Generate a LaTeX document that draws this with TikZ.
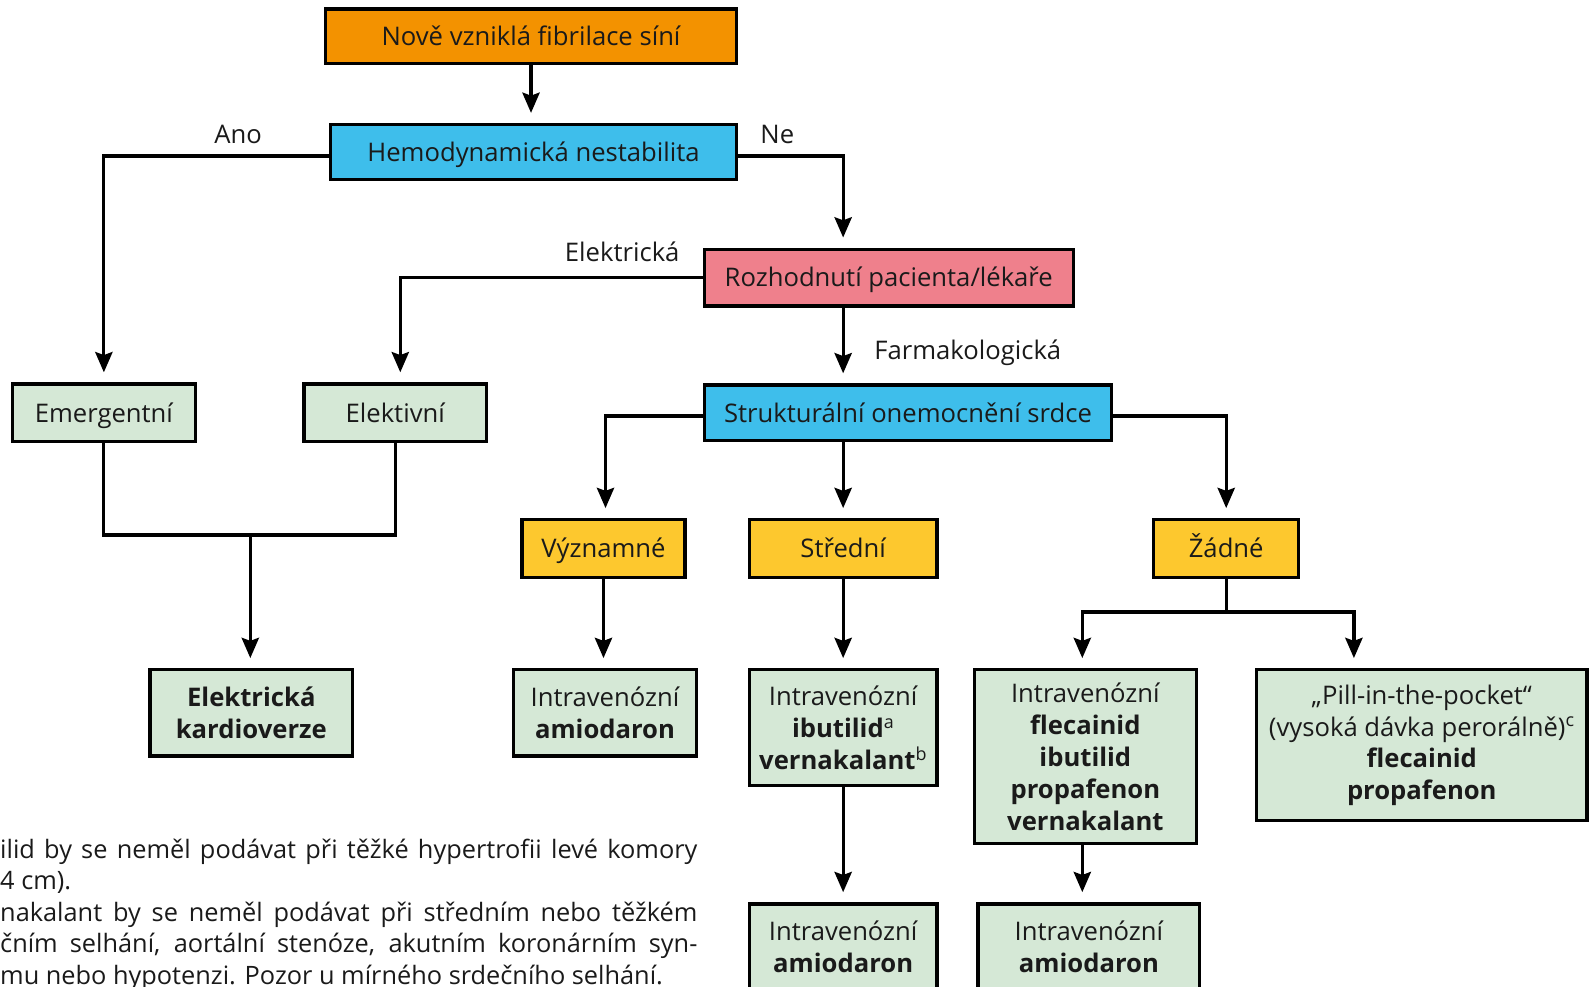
\documentclass[tikz,border=0pt]{standalone}
\usepackage{fontspec}
\setmainfont{Open Sans}
\usetikzlibrary{arrows.meta}
\definecolor{cor}{HTML}{F39200}
\definecolor{cbl}{HTML}{3EBEEB}
\definecolor{cpk}{HTML}{EF808C}
\definecolor{cye}{HTML}{FDC82E}
\definecolor{cgr}{HTML}{D5E8D6}
\definecolor{txt}{HTML}{1A1A1A}
\begin{document}
\begin{tikzpicture}[x=1pt,y=-1pt,
  box/.style={draw=black, line width=3.2pt, inner sep=0pt, align=center, text=txt, font=\fontsize{25.3}{31.5}\selectfont},
  one/.style={text height=23pt, text depth=5pt},
  ln/.style={draw=black, line width=3.2pt},
  arr/.style={ln, -{Stealth[length=20pt,width=17pt,inset=3pt]}, shorten >=10pt},
  lbl/.style={anchor=base, inner sep=0pt, text=txt, font=\fontsize{25.3}{31.5}\selectfont},
  fn/.style={anchor=base west, inner sep=0pt, text=txt, font=\fontsize{25}{31}\selectfont}]
\path[use as bounding box] (0,0) rectangle (1568,973);
\clip (0,0) rectangle (1568,973);

% nodes
\node[box, one, fill=cor, minimum width=406pt, minimum height=54pt] (top) at (524,36) {Nově vzniklá fibrilace síní};
\node[box, one, fill=cbl, minimum width=401pt, minimum height=54pt] (hemo) at (526.5,150) {Hemodynamická nestabilita};
\node[box, one, fill=cpk, minimum width=364pt, minimum height=56pt] (rozh) at (877,274) {Rozhodnutí pacienta/lékaře};
\node[box, one, fill=cbl, minimum width=402pt, minimum height=55pt] (strukt) at (896,407.5) {Strukturální onemocnění srdce};
\node[box, one, fill=cgr, minimum width=181pt, minimum height=57pt] (emerg) at (102.5,407.5) {Emergentní};
\node[box, one, fill=cgr, minimum width=180pt, minimum height=57pt] (elekt) at (390,407.5) {Elektivní};
\node[box, fill=cgr, minimum width=200pt, minimum height=85pt] (ekv) at (248,703.5) {\textbf{Elektrická}\\\textbf{kardioverze}};
\node[box, one, fill=cye, minimum width=161pt, minimum height=57pt] (vyzn) at (595.5,541.5) {Významné};
\node[box, fill=cgr, minimum width=180pt, minimum height=85pt] (ivam1) at (597,703.5) {Intravenózní\\\textbf{amiodaron}};
\node[box, one, fill=cye, minimum width=185pt, minimum height=57pt] (stred) at (832,541.5) {Střední};
\node[box, fill=cgr, minimum width=185pt, minimum height=114pt] (ivib) at (832,718) {Intravenózní\\\textbf{ibutilid}\textsuperscript{a}\\\textbf{vernakalant}\textsuperscript{b}};
\node[box, fill=cgr, minimum width=185pt, minimum height=84pt] (ivam2) at (832,934) {Intravenózní\\\textbf{amiodaron}};
\node[box, one, fill=cye, minimum width=143pt, minimum height=57pt] (zadne) at (1210,541.5) {Žádné};
\node[box, fill=cgr, minimum width=219pt, minimum height=171pt] (ivfl) at (1071,746.5) {Intravenózní\\\textbf{flecainid}\\\textbf{ibutilid}\\\textbf{propafenon}\\\textbf{vernakalant}};
\node[box, fill=cgr, minimum width=219pt, minimum height=84pt] (ivam3) at (1074.5,934) {Intravenózní\\\textbf{amiodaron}};
\node[box, fill=cgr, minimum width=326pt, minimum height=149pt] (pill) at (1403,735.5) {„Pill-in-the-pocket“\\(vysoká dávka perorálně)\textsuperscript{c}\\\textbf{flecainid}\\\textbf{propafenon}};

% labels
\node[lbl] (lano) at (235,142) {Ano};
\node[lbl] (lne) at (767,142) {Ne};
\node[lbl] (lel) at (614,258) {Elektrická};
\node[lbl] (lfa) at (955,355) {Farmakologická};

% connectors
\draw[arr] (top.south) -- (top.south |- hemo.north);
\draw[arr] ([yshift=-4pt]hemo.west) -| (emerg.north);
\draw[arr] ([yshift=-4pt]hemo.east) -| (rozh.north -| stred.north);
\draw[arr] (rozh.west) -| ([xshift=5pt]elekt.north);
\draw[arr] (rozh.south -| stred.north) -- (strukt.north -| stred.north);
\draw[arr] ([yshift=-3pt]strukt.west) -| ([xshift=2pt]vyzn.north);
\draw[arr] (strukt.south -| stred.north) -- (stred.north);
\draw[arr] ([yshift=-3pt]strukt.east) -| (zadne.north);
\coordinate (jn) at (247,528);
\draw[ln] (emerg.south) |- (jn) -| (elekt.south);
\draw[arr] (jn) -- (jn |- ekv.north);
\draw[arr] (vyzn.south) -- (vyzn.south |- ivam1.north);
\draw[arr] (stred.south) -- (ivib.north);
\draw[arr] (ivib.south) -- (ivam2.north);
\coordinate (zs) at (1210,604);
\draw[ln] (zadne.south) -- (zs);
\draw[arr] (zs) -| ([xshift=-3pt]ivfl.north);
\draw[arr] (zs) -| ([xshift=-67pt]pill.north);
\draw[arr] ([xshift=-3pt]ivfl.south) -- ([xshift=-3pt]ivfl.south |- ivam3.north);

% footnotes
\node[fn] (f1) at (0,847) {\makebox[688pt][s]{ilid by se neměl podávat při těžké hypertrofii levé komory}};
\node[fn] (f2) at (0,878) {4 cm).};
\node[fn] (f3) at (0,909) {\makebox[688pt][s]{nakalant by se neměl podávat při středním nebo těžkém}};
\node[fn] (f4) at (0,940) {\makebox[688pt][s]{čním selhání, aortální stenóze, akutním koronárním syn-}};
\node[fn] (f5) at (0,971) {mu nebo hypotenzi. Pozor u mírného srdečního selhání.};
\end{tikzpicture}
\end{document}
